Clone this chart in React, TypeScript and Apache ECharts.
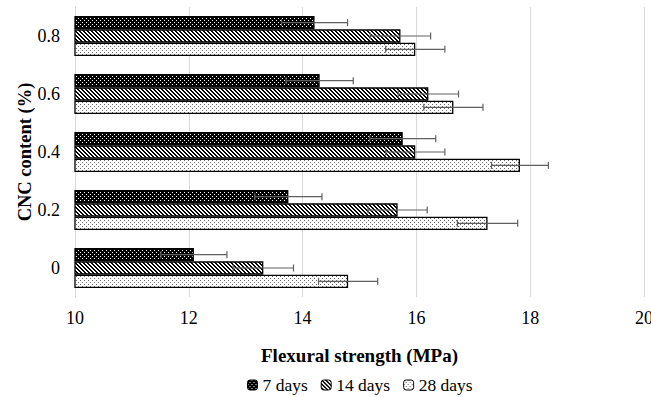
import React, { useEffect, useRef } from "react";
import * as echarts from "echarts";

const categories = ["0", "0.2", "0.4", "0.6", "0.8"];
const seriesNames = ["7 days", "14 days", "28 days"];
const days7 = [12.09, 13.75, 15.76, 14.3, 14.21];
const days14 = [13.31, 15.67, 15.98, 16.21, 15.72];
const days28 = [14.8, 17.25, 17.82, 16.65, 15.98];
const err7 = [0.58, 0.59, 0.58, 0.59, 0.58];
const err14 = [0.53, 0.52, 0.52, 0.53, 0.53];
const err28 = [0.52, 0.53, 0.5, 0.52, 0.52];
const xTicks = [10, 12, 14, 16, 18, 20];

const CAT_GAP = 0.31;

function makePattern(kind: string): HTMLCanvasElement {
  const c = document.createElement("canvas");
  c.width = 4;
  c.height = 4;
  const ctx = c.getContext("2d")!;
  if (kind === "dark") {
    ctx.fillStyle = "#000";
    ctx.fillRect(0, 0, 4, 4);
    ctx.fillStyle = "#fff";
    ctx.fillRect(0, 0, 1, 1);
    ctx.fillRect(2, 2, 1, 1);
  } else if (kind === "diag") {
    ctx.fillStyle = "#fff";
    ctx.fillRect(0, 0, 4, 4);
    ctx.fillStyle = "#000";
    for (let i = 0; i < 4; i++) {
      ctx.fillRect(i, i, 1, 1);
      ctx.fillRect((i + 1) % 4, i, 1, 1);
    }
  } else {
    ctx.fillStyle = "#fff";
    ctx.fillRect(0, 0, 4, 4);
    ctx.fillStyle = "#666";
    ctx.fillRect(0, 0, 1, 1);
    ctx.fillRect(2, 2, 1, 1);
  }
  return c;
}

export default function App() {
  const ref = useRef<HTMLDivElement>(null);
  useEffect(() => {
    if (!ref.current) return;
    const chart = echarts.init(ref.current, null, { renderer: "svg" });
    const patterns = [makePattern("dark"), makePattern("diag"), makePattern("light")];
    const values = [days7, days14, days28];
    const errs = [err7, err14, err28];
    const font = "Liberation Serif";

    const barSeries = values.map((vals, i) => ({
      name: seriesNames[i],
      type: "bar",
      data: vals,
      barGap: "0%",
      barCategoryGap: CAT_GAP * 100 + "%",
      itemStyle: {
        color: { image: patterns[i], repeat: "repeat" },
        borderColor: "#000",
        borderWidth: 1.3,
      },
      z: 2,
    }));

    const errSeries = errs.map((ev, i) => ({
      type: "custom",
      name: seriesNames[i] + " err",
      data: ev.map((e, ci) => [values[i][ci], ci, e]),
      encode: { x: 0, y: 1 },
      z: 5,
      silent: true,
      renderItem: (params: any, api: any) => {
        const v = api.value(0);
        const ci = api.value(1);
        const e = api.value(2);
        const band = api.size([0, 1])[1];
        const bw = (band * (1 - CAT_GAP)) / 3;
        const center = api.coord([v, ci]);
        const y = center[1] - 1.5 * bw + (i + 0.5) * bw;
        const x1 = api.coord([v - e, ci])[0];
        const x2 = api.coord([v + e, ci])[0];
        const style = { stroke: "#606060", lineWidth: 1.2 };
        const h = 3.5;
        return {
          type: "group",
          children: [
            { type: "line", shape: { x1, y1: y, x2, y2: y }, style },
            { type: "line", shape: { x1, y1: y - h, x2: x1, y2: y + h }, style },
            { type: "line", shape: { x1: x2, y1: y - h, x2, y2: y + h }, style },
          ],
        };
      },
    }));

    chart.setOption({
      animation: false,
      textStyle: { fontFamily: font },
      grid: {
        left: 75,
        right: 7,
        top: 7,
        bottom: 100,
        containLabel: false,
        outerBoundsMode: "none",
      },
      legend: {
        data: seriesNames,
        top: 371,
        left: 242,
        itemWidth: 10,
        itemHeight: 10,
        itemGap: 13,
        textStyle: { fontFamily: font, fontSize: 17.5, color: "#000" },
        itemStyle: { borderColor: "#000", borderWidth: 1 },
      },
      xAxis: {
        type: "value",
        min: xTicks[0],
        max: xTicks[xTicks.length - 1],
        interval: 2,
        name: "Flexural strength (MPa)",
        nameLocation: "middle",
        nameGap: 49,
        nameMoveOverlap: false,
        nameTextStyle: { fontFamily: font, fontSize: 19, fontWeight: "bold", color: "#000" },
        axisLabel: { fontFamily: font, fontSize: 18, color: "#000", margin: 12 },
        axisLine: { show: false },
        axisTick: { show: false },
        splitLine: { lineStyle: { color: "#d9d9d9", width: 1 } },
      },
      yAxis: {
        type: "category",
        data: categories,
        name: "CNC content (%)",
        nameLocation: "middle",
        nameGap: 41,
        nameMoveOverlap: false,
        nameTextStyle: { fontFamily: font, fontSize: 18.5, fontWeight: "bold", color: "#000" },
        axisLabel: { fontFamily: font, fontSize: 18, color: "#000", margin: 15 },
        axisLine: { show: true, lineStyle: { color: "#d9d9d9", width: 1 } },
        axisTick: { show: false },
      },
      series: [...barSeries, ...errSeries],
    });
    return () => chart.dispose();
  }, []);
  return <div ref={ref} style={{ width: 651, height: 397, position: "absolute", left: 0, top: 0 }} />;
}
